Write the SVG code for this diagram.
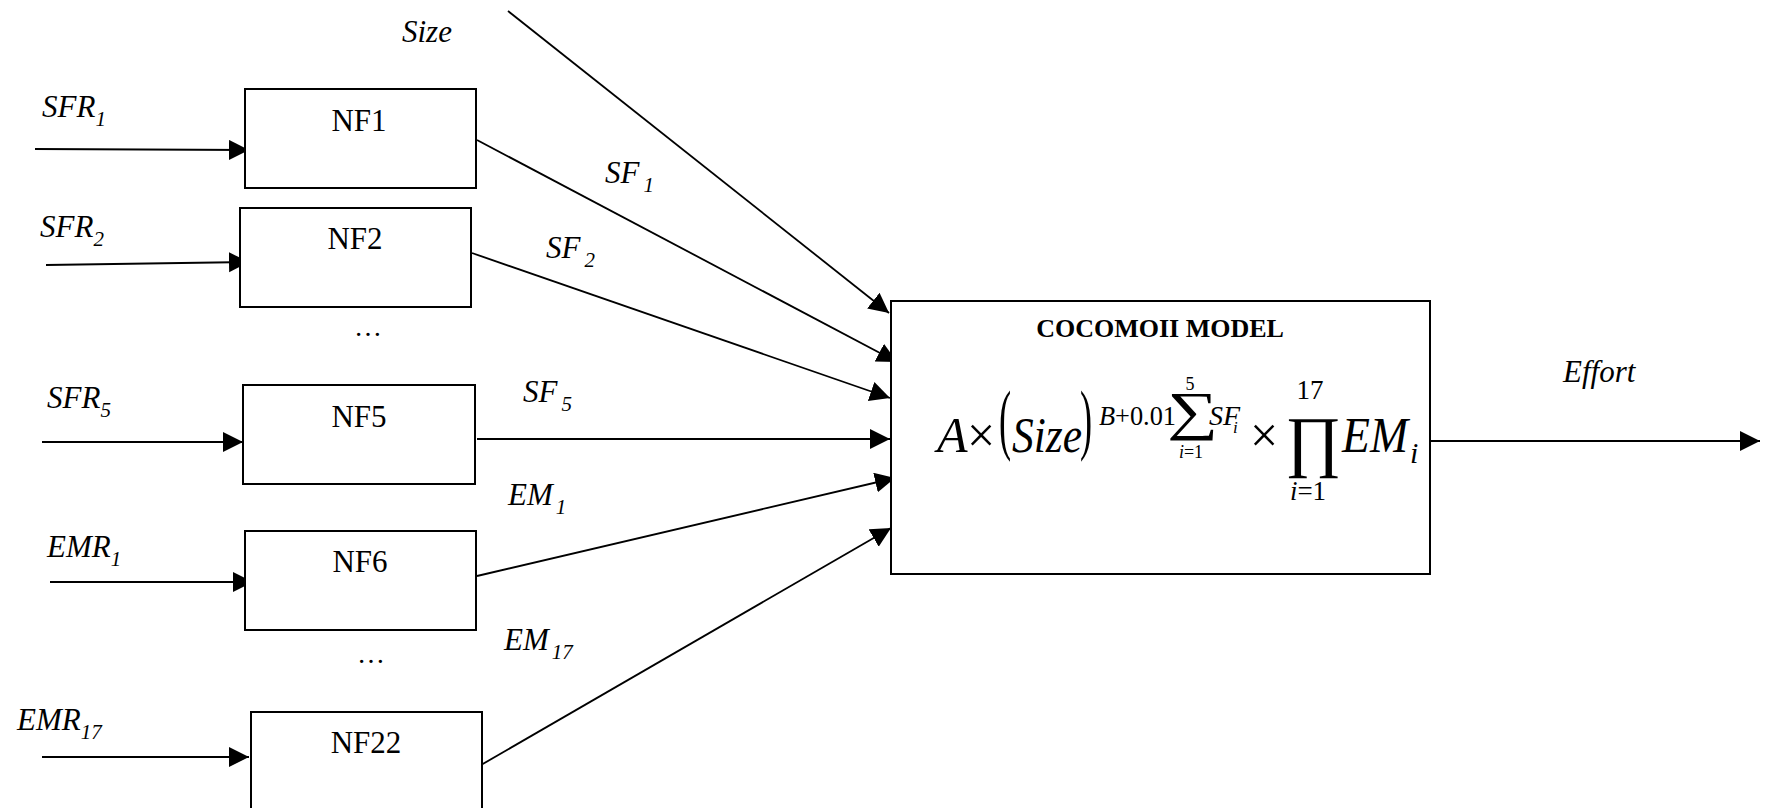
<svg xmlns="http://www.w3.org/2000/svg" width="1770" height="808" viewBox="0 0 1770 808">
<style>
text{font-family:"Liberation Serif","Times New Roman",serif;fill:#000}
.lbl{font-size:31px;font-style:italic}
.sub{font-size:21px}
.nf{font-size:31px;text-anchor:middle}
.box{fill:#fff;stroke:#000;stroke-width:2}
.edge{stroke:#000;stroke-width:1.8;fill:none;marker-end:url(#ah)}
.it{font-style:italic}
</style>
<defs>
<marker id="ah" markerUnits="userSpaceOnUse" markerWidth="22" markerHeight="22" refX="20" refY="10" orient="auto">
<path d="M0,0 L20,10 L0,20 z" fill="#000"/>
</marker>
</defs>
<rect width="1770" height="808" fill="#fff"/>
<g id="connectors">
<line class="edge" x1="508" y1="11" x2="889" y2="313"/>
<line class="edge" x1="477" y1="140" x2="897" y2="362"/>
<line class="edge" x1="472" y1="253" x2="890" y2="398"/>
<line class="edge" x1="477" y1="439" x2="890" y2="439"/>
<line class="edge" x1="477" y1="576" x2="895" y2="478"/>
<line class="edge" x1="481" y1="765" x2="891" y2="528"/>
<line class="edge" x1="1430" y1="441" x2="1760" y2="441"/>
<line class="edge" x1="35" y1="149" x2="249" y2="150"/>
<line class="edge" x1="46" y1="265" x2="249" y2="262"/>
<line class="edge" x1="42" y1="442" x2="243" y2="442"/>
<line class="edge" x1="50" y1="582" x2="253" y2="582"/>
<line class="edge" x1="42" y1="757" x2="249" y2="757"/>
</g>
<g id="labels">
<text class="lbl" x="402" y="42">Size</text>
<text class="lbl" x="42" y="117">SFR<tspan class="sub" dy="9">1</tspan></text>
<text class="lbl" x="40" y="237">SFR<tspan class="sub" dy="9">2</tspan></text>
<text class="lbl" x="47" y="408">SFR<tspan class="sub" dy="9">5</tspan></text>
<text class="lbl" x="47" y="557">EMR<tspan class="sub" dy="9">1</tspan></text>
<text class="lbl" x="17" y="730">EMR<tspan class="sub" dy="9">17</tspan></text>
<text class="lbl" x="605" y="183">SF<tspan class="sub" dx="4" dy="9">1</tspan></text>
<text class="lbl" x="546" y="258">SF<tspan class="sub" dx="4" dy="9">2</tspan></text>
<text class="lbl" x="523" y="402">SF<tspan class="sub" dx="4" dy="9">5</tspan></text>
<text class="lbl" x="508" y="505">EM<tspan class="sub" dx="3" dy="9">1</tspan></text>
<text class="lbl" x="504" y="650">EM<tspan class="sub" dx="3" dy="9">17</tspan></text>
<text class="lbl" x="1563" y="382">Effort</text>
<text x="368" y="336" font-size="28" text-anchor="middle">…</text>
<text x="371" y="663" font-size="28" text-anchor="middle">…</text>
</g>
<g id="NF1"><rect class="box" x="245" y="89" width="231" height="99"/><text class="nf" x="359" y="131">NF1</text></g>
<g id="NF2"><rect class="box" x="240" y="208" width="231" height="99"/><text class="nf" x="355" y="249">NF2</text></g>
<g id="NF5"><rect class="box" x="243" y="385" width="232" height="99"/><text class="nf" x="359" y="427">NF5</text></g>
<g id="NF6"><rect class="box" x="245" y="531" width="231" height="99"/><text class="nf" x="360" y="572">NF6</text></g>
<g id="NF22"><rect class="box" x="251" y="712" width="231" height="110"/><text class="nf" x="366" y="753">NF22</text></g>
<g id="COCOMO">
<rect class="box" x="891" y="301" width="539" height="273"/>
<text x="1160" y="337" font-size="26" font-weight="bold" text-anchor="middle">COCOMOII MODEL</text>
<text class="it" x="937" y="452" font-size="50">A</text>
<text x="967" y="452" font-size="50">×</text>
<text transform="translate(999,445) scale(0.7,1.5)" x="0" y="0" font-size="52">(</text>
<text class="it" x="1012" y="452" font-size="50" textLength="70" lengthAdjust="spacingAndGlyphs">Size</text>
<text transform="translate(1080,445) scale(0.7,1.5)" x="0" y="0" font-size="52">)</text>
<text x="1099" y="425" font-size="28" textLength="77" lengthAdjust="spacingAndGlyphs"><tspan class="it">B</tspan>+0.01</text>
<text transform="translate(1192.5,429) scale(1.35,1)" x="0" y="0" font-size="53" text-anchor="middle">∑</text>
<text x="1190" y="390" font-size="18" text-anchor="middle">5</text>
<text x="1191" y="458" font-size="18" text-anchor="middle"><tspan class="it">i</tspan>=1</text>
<text class="it" x="1209" y="425" font-size="28">SF</text>
<text class="it" x="1233" y="433" font-size="17">i</text>
<text x="1250" y="452" font-size="50">×</text>
<text x="1313" y="464" font-size="68" text-anchor="middle">∏</text>
<text x="1310" y="399" font-size="27" text-anchor="middle">17</text>
<text x="1308" y="500" font-size="27" text-anchor="middle"><tspan class="it">i</tspan>=1</text>
<text class="it" x="1342" y="452" font-size="50" textLength="66" lengthAdjust="spacingAndGlyphs">EM</text>
<text class="it" x="1410" y="463" font-size="30">i</text>
</g>
</svg>
